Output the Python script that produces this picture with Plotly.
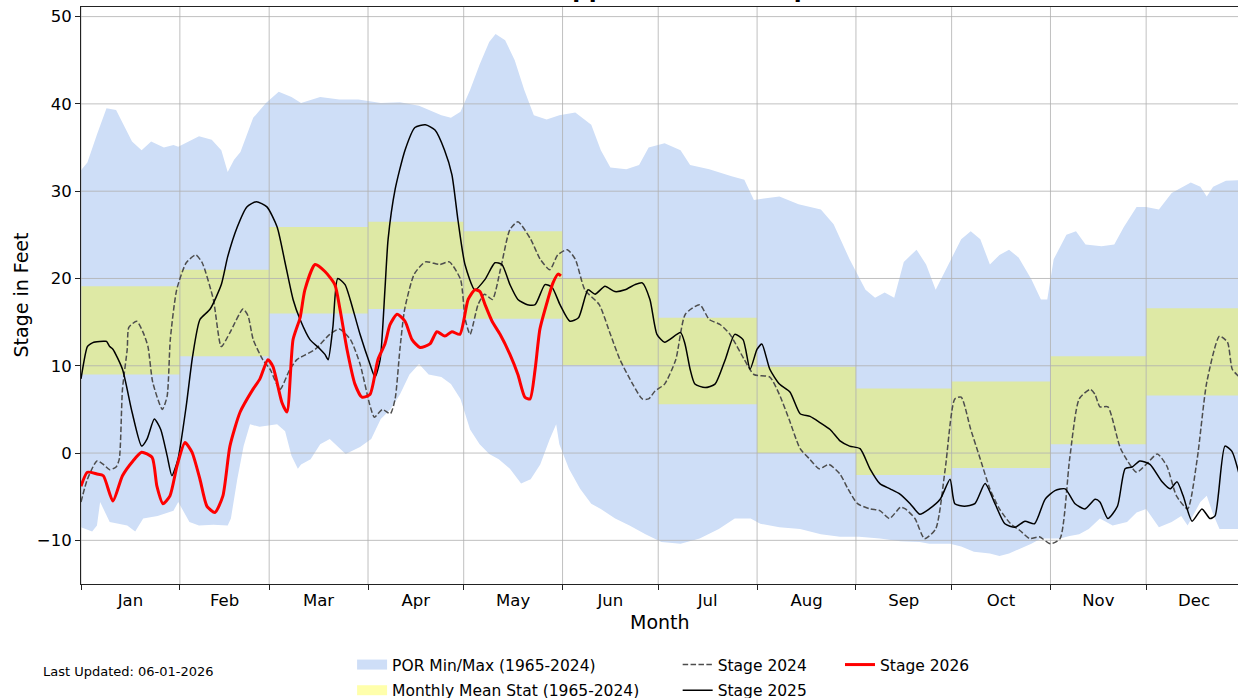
import pandas as pd
import plotly.graph_objects as go

# ---------------- data (day-of-year offsets from Jan 1, values in feet) ----------------
POR_MAX_DAYS = [0, 2, 5, 8, 11, 16, 19, 22, 26, 29, 30.5, 37, 41, 44, 46, 48, 50, 54, 58, 62, 66, 69,
                75, 81, 87, 94, 100, 106, 113, 116, 119, 122, 125, 128, 130, 133, 136, 139, 142, 146,
                150, 155, 160, 163, 166, 171, 175, 178, 183, 188, 191, 197, 204, 208, 211, 216, 219,
                225, 232, 236, 241, 246, 249, 252, 255, 258, 262, 265, 268, 272, 276, 279, 282, 285,
                288, 291, 294, 298, 301, 303, 305, 309, 312, 315, 320, 324, 327, 331, 334, 338, 342,
                348, 351, 353, 355, 359, 363, 365]
POR_MAX = [32.4, 33.3, 36.5, 39.5, 39.3, 35.7, 34.7, 35.7, 35.0, 35.3, 35.1, 36.3, 35.9, 34.7, 32.2,
           33.6, 34.5, 38.4, 40.1, 41.4, 40.8, 40.1, 40.8, 40.5, 40.5, 40.1, 40.2, 39.8, 38.7, 38.4,
           39.1, 41.6, 44.5, 47.1, 48.0, 47.3, 45.0, 41.6, 38.7, 38.2, 38.7, 39.0, 37.6, 34.7, 32.7,
           32.5, 33.0, 35.0, 35.5, 34.7, 33.0, 32.5, 31.7, 31.3, 29.0, 29.3, 29.4, 28.5, 27.9, 26.2,
           22.2, 18.7, 17.8, 18.4, 17.8, 21.9, 23.3, 21.6, 18.7, 21.6, 24.5, 25.4, 24.5, 21.6, 22.7,
           23.3, 22.4, 19.9, 17.6, 17.6, 22.2, 25.0, 25.4, 23.9, 23.7, 23.9, 25.9, 28.2, 28.2, 27.9,
           29.8, 31.0, 30.5, 29.4, 30.5, 31.2, 31.3, 31.3]

POR_MIN_DAYS = [0, 3.5, 5, 6, 9, 14.5, 17, 19.5, 24, 29, 30.5, 34, 37, 41.5, 46, 47, 49, 51, 53, 56,
                58, 61.5, 64, 66, 68, 69, 72, 75, 78, 83, 87.5, 91, 94, 97, 100, 103, 106, 109, 113,
                116, 119, 122, 125, 128, 131, 134.5, 138, 141, 144, 147, 149, 150, 153, 156.5, 160,
                163, 167.5, 172, 177, 182, 188, 194, 200, 205, 210, 213, 219, 225.5, 232, 238, 244,
                250.5, 257, 263, 266, 272.5, 276, 280, 285, 288, 291, 294, 298, 301, 304, 307, 310,
                313, 316, 319.5, 323.5, 328, 331, 334, 336, 338, 342, 345, 347, 351, 353, 355, 357,
                365]
POR_MIN = [-8.5, -9.0, -8.3, -5.6, -7.9, -8.3, -9.0, -7.5, -7.2, -6.6, -5.6, -7.9, -8.3, -8.2, -8.3,
           -7.5, -3.0, 0.8, 3.3, 3.0, 3.1, 3.3, 2.5, -0.3, -1.8, -1.3, -0.7, 1.0, 1.6, -0.1, 0.7, 1.6,
           3.9, 5.0, 6.7, 9.0, 10.2, 9.0, 8.7, 7.9, 6.2, 2.7, 1.0, -0.1, -0.7, -1.8, -3.5, -3.0, -1.3,
           1.6, 3.3, 1.0, -1.8, -4.1, -5.8, -6.4, -7.5, -8.3, -9.3, -10.2, -10.4, -9.8, -8.7, -7.5,
           -7.5, -8.1, -8.5, -8.7, -9.3, -9.6, -9.6, -9.8, -10.1, -10.2, -10.4, -10.4, -10.7, -11.3,
           -11.5, -11.8, -11.5, -11.0, -10.4, -9.8, -9.8, -9.8, -9.5, -9.3, -8.7, -7.5, -8.3, -7.9,
           -6.8, -6.4, -7.5, -8.5, -7.9, -7.2, -8.3, -5.6, -4.9, -7.0, -8.7, -8.7]

MONTH_START_DAYS = [0, 31, 59, 90, 120, 151, 181, 212, 243, 273, 304, 334, 365]
MONTH_MEAN_LOW = [9.0, 11.1, 16.0, 16.5, 15.4, 10.1, 5.6, 0.0, -2.5, -1.7, 1.0, 6.6]
MONTH_MEAN_HIGH = [19.1, 21.0, 25.9, 26.5, 25.4, 20.0, 15.5, 9.9, 7.4, 8.2, 11.1, 16.6]

STAGE_2024_DAYS = [0, 2, 5, 7, 9, 11, 12, 13, 14.5, 15, 17.5, 19.5, 21, 22.5, 25.5, 27, 28, 30, 33, 36,
                   38, 41.5, 44, 46.7, 50.8, 52.4, 54, 57, 59.3, 62.4, 65.5, 67.7, 69, 73.5, 78, 81,
                   84.5, 87.5, 90.5, 92, 94.5, 97, 98.5, 100, 101.5, 104.5, 108, 112.5, 115.5, 119,
                   120.5, 122, 124.5, 126.5, 129, 131.5, 134.5, 137, 141, 144, 147, 149.5, 152.5, 155,
                   158, 162.5, 166, 169, 173, 176, 178, 180, 183, 186.5, 189.5, 194, 197, 200.5, 203.5,
                   208, 211, 216, 219, 222, 225.5, 228.5, 231.5, 234.5, 238, 240.5, 243.5, 247.5,
                   250.5, 253.5, 257, 258.5, 261.5, 264.5, 268, 271, 274, 276, 279, 282, 285, 288,
                   291.5, 294.5, 297.5, 300.5, 304, 307, 310, 313, 316.5, 318, 319.5, 322, 326, 331,
                   334, 337.5, 340.5, 343.5, 347, 350, 353, 357, 359.5, 361, 363]
STAGE_2024 = [-5.6, -3.0, -0.9, -1.3, -1.9, -1.6, -0.7, 7.3, 11.9, 14.4, 15.1, 13.8, 12.2, 8.1, 5.0,
              6.5, 13.0, 18.7, 21.8, 22.7, 21.8, 17.6, 12.2, 13.8, 16.5, 15.7, 13.0, 10.7, 9.6, 7.3,
              9.6, 10.7, 11.0, 11.9, 13.6, 14.2, 13.0, 10.2, 5.6, 4.1, 5.0, 4.5, 6.2, 11.9, 16.5, 20.5,
              21.9, 21.6, 21.9, 19.9, 15.3, 13.6, 17.0, 18.2, 17.6, 21.0, 25.6, 26.5, 24.5, 22.2, 21.0,
              22.7, 23.3, 22.2, 18.7, 17.0, 13.6, 10.7, 7.9, 6.2, 6.2, 7.1, 7.9, 10.7, 15.9, 17.0,
              15.3, 14.7, 13.6, 10.7, 9.0, 8.7, 6.7, 3.9, 0.5, -0.7, -1.8, -1.3, -2.4, -4.1, -5.8,
              -6.4, -6.6, -7.5, -6.2, -6.4, -7.5, -9.8, -8.7, -1.8, 6.2, 6.4, 2.7, -0.7, -4.1, -6.4,
              -8.1, -8.9, -9.8, -9.6, -10.4, -9.8, -0.7, 6.2, 7.3, 6.7, 5.3, 5.3, 0.5, -2.2, -1.3,
              -0.1, -1.5, -4.9, -6.4, -0.7, 8.1, 13.4, 12.7, 9.6, 8.8]

STAGE_2025_DAYS = [0, 2, 3, 4, 7, 8, 9, 10, 13, 16, 19, 20.7, 23, 25, 27, 28.5, 30.4, 33, 35, 37.3,
                   40.5, 44, 46, 49, 52, 55, 58.3, 61.5, 64, 66.5, 68.7, 71.8, 75, 76.5, 77.5, 79,
                   80.5, 82.8, 84.4, 87.5, 90.6, 92.2, 93.8, 95.3, 96.3, 98.5, 101.6, 104.7, 108, 111,
                   114, 116.3, 118.2, 120.4, 123.5, 126.7, 129.8, 132, 134.5, 137, 140, 142.4, 145.5,
                   147.7, 150.2, 153.3, 156, 159, 161.2, 164.3, 167.4, 170.6, 173.7, 176, 178.4,
                   180.6, 183, 188, 189.4, 191, 192.5, 195.7, 198.8, 202, 205, 207.6, 209.8, 212,
                   213.5, 216, 219, 222.3, 225.5, 228.6, 231.7, 234.9, 238, 241, 244.3, 247.4, 250.5,
                   253.7, 256.8, 260, 263, 266, 269.4, 272.5, 274, 277, 280.3, 283.5, 286.6, 289.7,
                   292.9, 296, 299, 302.3, 305.4, 308.6, 311.7, 314.8, 318, 319.5, 322, 325, 327.4,
                   329.6, 332, 335.2, 339, 341.5, 343.7, 345.6, 348.4, 351.5, 354, 355.6, 358.7,
                   360.9, 363]
STAGE_2025 = [8.5, 12.2, 12.5, 12.7, 12.8, 12.8, 12.2, 11.9, 9.6, 4.7, 0.8, 1.6, 3.9, 2.7, -0.3, -2.6,
              -0.7, 5.4, 11.1, 15.3, 16.5, 19.3, 22.5, 25.9, 28.2, 28.8, 28.2, 25.9, 21.8, 17.6, 15.3,
              13.0, 11.9, 11.3, 10.7, 14.5, 20.0, 19.3, 17.6, 13.6, 10.2, 8.7, 10.7, 18.7, 24.5, 30.2,
              34.7, 37.3, 37.6, 37.0, 34.7, 31.9, 26.7, 21.6, 18.7, 19.9, 21.8, 21.6, 19.3, 17.6, 17.0,
              17.0, 19.3, 19.0, 17.0, 15.1, 15.5, 18.7, 18.2, 19.1, 18.5, 18.7, 19.3, 19.5, 17.6, 13.6,
              12.7, 13.8, 12.5, 9.6, 7.9, 7.5, 7.9, 10.7, 13.6, 13.0, 9.6, 11.9, 12.5, 9.6, 7.9, 7.0,
              4.5, 4.2, 3.5, 2.7, 1.4, 0.8, 0.5, -1.8, -3.5, -4.1, -4.7, -5.8, -7.0, -6.4, -5.3, -3.0,
              -5.8, -6.1, -5.8, -3.5, -5.8, -8.1, -8.5, -7.8, -8.1, -5.3, -4.3, -4.1, -5.8, -6.4, -5.3,
              -5.6, -7.5, -6.1, -1.8, -1.6, -0.9, -1.3, -3.3, -4.1, -3.3, -4.9, -7.8, -6.4, -7.5, -7.2,
              0.8, 0.2, -2.2]

STAGE_2026_DAYS = [0, 2, 5, 7, 10, 13, 16.3, 19, 22.3, 23.8, 25.7, 27.9, 30.1, 32.6, 34.8, 37.3, 39.5,
                   42, 44.5, 46.7, 49.9, 53.9, 56.1, 58.6, 60.2, 63, 64.6, 66.5, 68.7, 70.2, 73.4,
                   76.5, 79.6, 81.2, 83.4, 85.9, 88.1, 90.6, 93.1, 95.3, 96.9, 99.1, 101.6, 103.8,
                   106.3, 109.4, 111.6, 114.1, 116.3, 118.8, 121.4, 123.5, 125.1, 126.7, 128.9, 131.4,
                   134.5, 137, 139.2, 140.8, 142.4, 143.9, 146.4, 148, 149.6, 150.5]
STAGE_2026 = [-3.8, -2.2, -2.4, -2.6, -5.5, -2.6, -0.9, 0.1, -0.5, -3.8, -5.8, -4.9, -1.5, 1.2, 0.1,
              -3.0, -6.1, -6.8, -4.9, 0.8, 4.7, 7.3, 8.5, 10.7, 9.9, 5.8, 4.7, 13.0, 15.5, 18.7, 21.6,
              20.8, 19.3, 16.5, 11.9, 7.9, 6.4, 6.7, 10.7, 12.5, 14.7, 15.9, 15.1, 13.0, 12.1, 12.5,
              13.9, 13.4, 13.9, 13.6, 17.6, 18.7, 18.5, 17.0, 15.1, 13.6, 11.3, 9.0, 6.4, 6.2, 9.6,
              14.2, 17.6, 19.5, 20.5, 20.3]

Y_TICKS = [-10, 0, 10, 20, 30, 40, 50]
Y_RANGE = [-15, 51.1]
X_END_DAY = 362.8

TITLE = "Mississippi River at Memphis"
UPDATED = "Last Updated: 06-01-2026"

# ---------------- helpers ----------------
BASE = pd.Timestamp("2001-01-01")


def to_dates(days):
    return [None if d is None else BASE + pd.Timedelta(days=float(d)) for d in days]


FONT = "DejaVu Sans"
BLUE = "rgb(206,222,247)"
YELLOW = "rgba(255,255,0,0.33)"
GRID = "#b0b0b0"

fig = go.Figure()

# POR band
por_x = POR_MAX_DAYS + POR_MIN_DAYS[::-1]
por_y = POR_MAX + POR_MIN[::-1]
fig.add_trace(go.Scatter(x=to_dates(por_x), y=por_y, fill="toself", fillcolor=BLUE,
                         line=dict(width=0), mode="lines", showlegend=False, hoverinfo="skip"))

# Monthly mean band (step polygon)
up_x, up_y, lo_x, lo_y = [], [], [], []
for i in range(12):
    s, e = MONTH_START_DAYS[i], MONTH_START_DAYS[i + 1]
    up_x += [s, e]
    up_y += [MONTH_MEAN_HIGH[i], MONTH_MEAN_HIGH[i]]
    lo_x += [s, e]
    lo_y += [MONTH_MEAN_LOW[i], MONTH_MEAN_LOW[i]]
band_x = up_x + lo_x[::-1]
band_y = up_y + lo_y[::-1]
fig.add_trace(go.Scatter(x=to_dates(band_x), y=band_y, fill="toself", fillcolor=YELLOW,
                         line=dict(width=0), mode="lines", showlegend=False, hoverinfo="skip"))

# Grid lines above patches, below lines (matplotlib z-order)
gx, gy = [], []
for d in MONTH_START_DAYS[:-1]:
    gx += [d, d, None]
    gy += [Y_RANGE[0], Y_RANGE[1], None]
for v in Y_TICKS:
    gx += [0, 366, None]
    gy += [v, v, None]
fig.add_trace(go.Scatter(x=to_dates(gx), y=gy, mode="lines", line=dict(color=GRID, width=0.8),
                         showlegend=False, hoverinfo="skip", connectgaps=False))

# Stage lines
fig.add_trace(go.Scatter(x=to_dates(STAGE_2024_DAYS), y=STAGE_2024, mode="lines", name="Stage 2024",
                         line=dict(color="#4d4d4d", width=1.5, dash="5.5px,2.4px", shape="spline",
                                   smoothing=0.6),
                         legend="legend2", legendgroup="a", legendrank=1))
fig.add_trace(go.Scatter(x=to_dates(STAGE_2025_DAYS), y=STAGE_2025, mode="lines", name="Stage 2025",
                         line=dict(color="black", width=1.5, shape="spline", smoothing=0.6),
                         legend="legend2", legendgroup="b", legendrank=2))
fig.add_trace(go.Scatter(x=to_dates(STAGE_2026_DAYS), y=STAGE_2026, mode="lines", name="Stage 2026",
                         line=dict(color="red", width=3, shape="spline", smoothing=0.6),
                         legend="legend3", legendgroup="c"))

# Legend entries for patches
fig.add_trace(go.Scatter(x=[None], y=[None], mode="lines", name="POR Min/Max (1965-2024)",
                         line=dict(color=BLUE, width=11), legend="legend", legendgroup="d",
                         legendrank=1))
fig.add_trace(go.Scatter(x=[None], y=[None], mode="lines", name="Monthly Mean Stat (1965-2024)",
                         line=dict(color=YELLOW, width=11), legend="legend", legendgroup="e",
                         legendrank=2))

leg_common = dict(orientation="v", yanchor="top", xanchor="left", bgcolor="rgba(0,0,0,0)",
                  font=dict(family=FONT, size=15.5, color="black"), tracegroupgap=2.5,
                  itemwidth=30)
leg_y = -0.1109

fig.update_layout(
    width=1238, height=698,
    margin=dict(l=81, r=0, t=7, b=114, autoexpand=False),
    paper_bgcolor="white", plot_bgcolor="white",
    font=dict(family=FONT, color="black"),
    hovermode=False,
    legend=dict(x=0.2343, y=leg_y, **leg_common),
    legend2=dict(x=0.5157, y=leg_y, **leg_common),
    legend3=dict(x=0.656, y=leg_y, **leg_common),
    xaxis=dict(type="date", range=[BASE, BASE + pd.Timedelta(days=X_END_DAY)],
               dtick="M1", tick0="2001-01-01", ticklabelmode="period", tickformat="%b",
               showgrid=False, zeroline=False, showline=True, mirror=True,
               linecolor="#222", linewidth=1, ticks="outside", ticklen=5, tickwidth=0.8,
               tickcolor="#222", ticklabelstandoff=-4,
               tickfont=dict(family=FONT, size=16.5, color="black")),
    yaxis=dict(range=Y_RANGE, tickvals=Y_TICKS, showgrid=False, zeroline=False,
               showline=True, mirror=False, linecolor="#222", linewidth=1,
               ticks="outside", ticklen=5, tickwidth=0.8, tickcolor="#222",
               tickfont=dict(family=FONT, size=16.5, color="black")),
    annotations=[
        dict(text=TITLE, xref="paper", yref="paper", x=0.5, y=1, yshift=18.5,
             xanchor="center", yanchor="middle", showarrow=False,
             font=dict(family=FONT, size=23, weight="bold", color="black")),
        dict(text="Stage in Feet", xref="paper", yref="paper", x=-0.0527, y=0.5,
             textangle=-90, xanchor="center", yanchor="middle", showarrow=False,
             font=dict(family=FONT, size=19, color="black")),
        dict(text="Month", xref="paper", yref="paper", x=0.5, y=-0.0659,
             xanchor="center", yanchor="middle", showarrow=False,
             font=dict(family=FONT, size=19, color="black")),
        dict(text=UPDATED, xref="paper", yref="paper", x=-0.0346, y=-0.1508,
             xanchor="left", yanchor="middle", showarrow=False,
             font=dict(family=FONT, size=13, color="black")),
    ],
)

fig.write_html("out.html", config={"displayModeBar": False},
               post_script="document.body.style.margin='0px';document.body.style.padding='0px';"
                           "document.documentElement.style.overflow='hidden';")
